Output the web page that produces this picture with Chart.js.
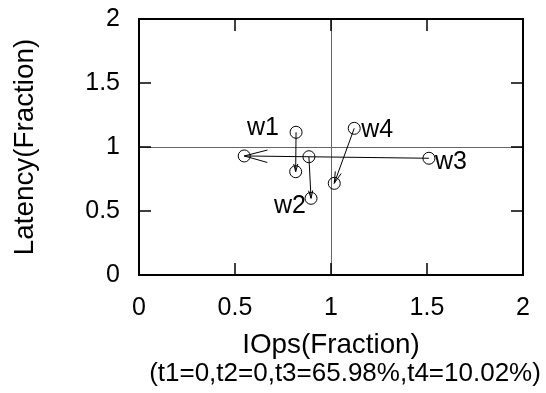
<!DOCTYPE html>
<html>
<head>
<meta charset="utf-8">
<script src="https://cdn.jsdelivr.net/npm/chart.js@4.4.1/dist/chart.umd.min.js"></script>
<style>
  html, body { margin: 0; padding: 0; background: #fff; }
</style>
</head>
<body>
<canvas id="chart" width="546" height="393"></canvas>
<script>
// workloads, each moves from a start point to an end point
const workloads = ['w1', 'w2', 'w3', 'w4'];
const startX = [0.818, 0.885, 1.510, 1.121];
const startY = [1.115, 0.924, 0.912, 1.146];
const endX = [0.816, 0.896, 0.548, 1.017];
const endY = [0.807, 0.599, 0.930, 0.716];
const tickValues = [0, 0.5, 1, 1.5, 2];
const xTitle = 'IOps(Fraction)';
const xSubtitle = '(t1=0,t2=0,t3=65.98%,t4=10.02%)';
const yTitle = 'Latency(Fraction)';

// where each name sits next to its point (pixels)
const labelStyle = [
  { at: 'start', dx: -49, dy: 3 },
  { at: 'end', dx: -37, dy: 15 },
  { at: 'start', dx: 6, dy: 11 },
  { at: 'start', dx: 7, dy: 9 }
];
const headLen = [8, 8, 24, 12];

const FONT = '"Liberation Sans", Arial, Helvetica, sans-serif';

const points = [];
workloads.forEach((w, i) => {
  points.push({ x: startX[i], y: startY[i] });
  points.push({ x: endX[i], y: endY[i] });
});

// arrows + names
const arrows = {
  id: 'arrows',
  afterDatasetsDraw(chart) {
    const { ctx, scales: { x, y } } = chart;
    ctx.save();
    ctx.strokeStyle = '#000';
    ctx.fillStyle = '#000';
    ctx.lineWidth = 1;
    workloads.forEach((w, i) => {
      const x0 = x.getPixelForValue(startX[i]), y0 = y.getPixelForValue(startY[i]);
      const x1 = x.getPixelForValue(endX[i]), y1 = y.getPixelForValue(endY[i]);
      const ang = Math.atan2(y1 - y0, x1 - x0);
      const h = headLen[i], spread = Math.PI / 12;
      ctx.beginPath();
      ctx.moveTo(x0, y0);
      ctx.lineTo(x1, y1);
      ctx.moveTo(x1 - h * Math.cos(ang - spread), y1 - h * Math.sin(ang - spread));
      ctx.lineTo(x1, y1);
      ctx.lineTo(x1 - h * Math.cos(ang + spread), y1 - h * Math.sin(ang + spread));
      ctx.stroke();

      const s = labelStyle[i];
      const ax = s.at === 'start' ? x0 : x1;
      const ay = s.at === 'start' ? y0 : y1;
      ctx.font = '25px ' + FONT;
      ctx.textAlign = 'left';
      ctx.textBaseline = 'alphabetic';
      ctx.fillText(w, ax + s.dx, ay + s.dy);
    });
    ctx.restore();
  }
};

// box with inward ticks on all four sides
const frame = {
  id: 'frame',
  afterDatasetsDraw(chart) {
    const { ctx, chartArea: a, scales: { x, y } } = chart;
    ctx.save();
    ctx.strokeStyle = '#000';
    ctx.lineWidth = 1.5;
    ctx.beginPath();
    tickValues.forEach(v => {
      const px = x.getPixelForValue(v), py = y.getPixelForValue(v);
      ctx.moveTo(px, a.bottom); ctx.lineTo(px, a.bottom - 12);
      ctx.moveTo(px, a.top); ctx.lineTo(px, a.top + 12);
      ctx.moveTo(a.left, py); ctx.lineTo(a.left + 12, py);
      ctx.moveTo(a.right, py); ctx.lineTo(a.right - 12, py);
    });
    ctx.stroke();
    ctx.lineWidth = 2;
    ctx.strokeRect(a.left, a.top, a.right - a.left, a.bottom - a.top);
    ctx.restore();
  }
};

// second line under the x title, sits a bit right of centre
const subtitle = {
  id: 'subtitle',
  afterDraw(chart) {
    const { ctx, chartArea: a } = chart;
    ctx.save();
    ctx.font = '26px ' + FONT;
    ctx.fillStyle = '#000';
    ctx.textAlign = 'center';
    ctx.textBaseline = 'middle';
    ctx.fillText(xSubtitle, (a.left + a.right) / 2 + 14, 374);
    ctx.restore();
  }
};

const crossGrid = {
  color: c => (c.tick && c.tick.value === 1 ? '#666' : 'rgba(0,0,0,0)'),
  lineWidth: 1,
  drawTicks: false
};

new Chart(document.getElementById('chart').getContext('2d'), {
  type: 'scatter',
  data: {
    datasets: [{
      data: points,
      pointStyle: 'circle',
      pointRadius: 6,
      pointHoverRadius: 6,
      pointBorderWidth: 1,
      pointBorderColor: '#000',
      pointBackgroundColor: 'rgba(0,0,0,0)'
    }]
  },
  options: {
    responsive: false,
    animation: false,
    events: [],
    layout: { padding: { top: 19, right: 23, left: 0, bottom: 0 } },
    plugins: { legend: { display: false }, tooltip: { enabled: false } },
    scales: {
      x: {
        type: 'linear',
        min: 0,
        max: 2,
        afterBuildTicks: s => { s.ticks = tickValues.map(v => ({ value: v })); },
        afterFit: s => { s.height = 118; s.paddingLeft = 0; s.paddingRight = 0; },
        grid: crossGrid,
        border: { display: false },
        ticks: { color: '#000', padding: 18, font: { family: FONT, size: 25 }, callback: v => String(v) },
        title: {
          display: true,
          text: xTitle,
          color: '#000',
          font: { family: FONT, size: 27.8, lineHeight: '29px' },
          padding: { top: 0, bottom: 33 }
        }
      },
      y: {
        type: 'linear',
        min: 0,
        max: 2,
        afterBuildTicks: s => { s.ticks = tickValues.map(v => ({ value: v })); },
        afterFit: s => { s.width = 139; s.paddingTop = 0; s.paddingBottom = 0; },
        grid: crossGrid,
        border: { display: false },
        ticks: { color: '#000', padding: 19, font: { family: FONT, size: 25 }, callback: v => String(v) },
        title: {
          display: true,
          text: yTitle,
          color: '#000',
          font: { family: FONT, size: 27.8, lineHeight: '29px' },
          padding: { top: 11, bottom: 0 }
        }
      }
    }
  },
  plugins: [frame, arrows, subtitle]
});
</script>
</body>
</html>
